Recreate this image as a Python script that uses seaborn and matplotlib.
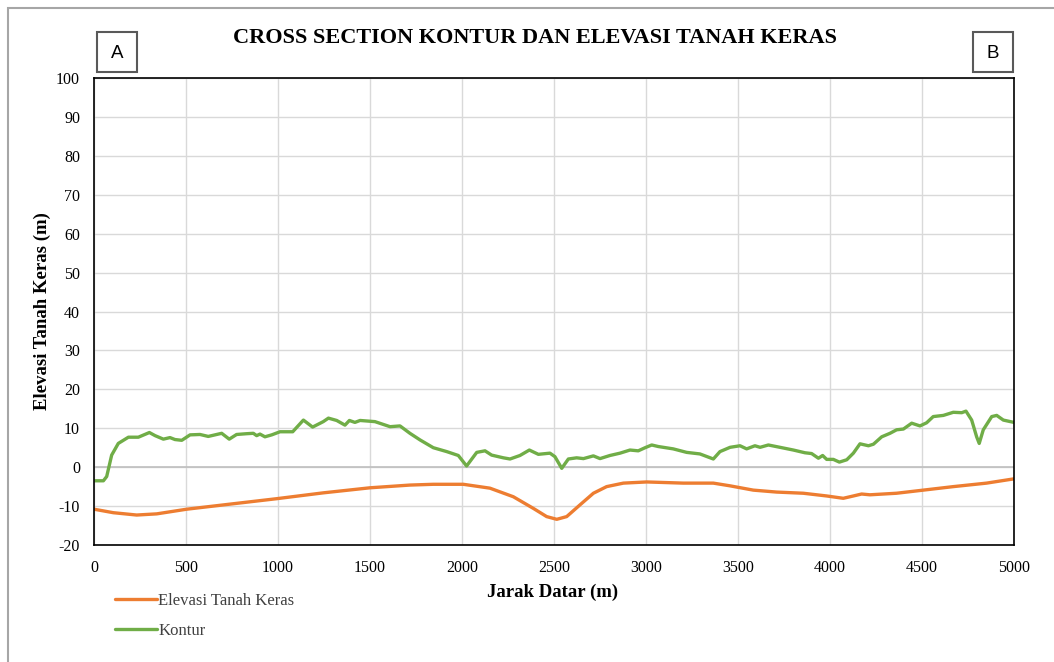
import matplotlib
matplotlib.use("Agg")
import matplotlib.pyplot as plt
import pandas as pd
import seaborn as sns
from matplotlib.patches import Rectangle

# Kontur (ground surface)
kontur_x = [0, 51, 69, 96, 132, 187, 241, 301, 332, 377, 413, 440, 477, 522, 576, 621, 694,
            735, 775, 830, 866, 884, 902, 929, 966, 1011, 1080, 1138, 1188, 1246, 1274, 1319,
            1364, 1388, 1418, 1446, 1527, 1609, 1663, 1717, 1772, 1844, 1917, 1980, 2025, 2080,
            2125, 2161, 2225, 2261, 2315, 2366, 2415, 2478, 2505, 2542, 2578, 2623, 2660, 2714,
            2750, 2804, 2859, 2913, 2958, 2995, 3031, 3067, 3148, 3221, 3293, 3366, 3402, 3457,
            3511, 3547, 3592, 3620, 3665, 3728, 3801, 3864, 3900, 3937, 3960, 3982, 4018, 4051,
            4091, 4127, 4163, 4209, 4236, 4281, 4326, 4362, 4399, 4444, 4489, 4525, 4561, 4616,
            4670, 4716, 4739, 4770, 4797, 4811, 4833, 4879, 4906, 4942, 5000]
kontur_y = [-3.5, -3.5, -2.4, 3.1, 6.1, 7.7, 7.7, 8.9, 8.1, 7.2, 7.6, 7.1, 6.9, 8.3, 8.4, 7.9, 8.7,
            7.2, 8.4, 8.6, 8.7, 8.1, 8.5, 7.8, 8.3, 9.1, 9.1, 12.1, 10.3, 11.7, 12.6, 12.0,
            10.8, 12.0, 11.5, 12.0, 11.7, 10.4, 10.6, 8.7, 7.0, 5.0, 4.0, 3.0, 0.3, 3.8,
            4.2, 3.1, 2.4, 2.1, 3.0, 4.4, 3.3, 3.6, 2.7, -0.3, 2.1, 2.4, 2.2, 2.9,
            2.2, 3.0, 3.6, 4.4, 4.2, 5.0, 5.7, 5.3, 4.7, 3.8, 3.4, 2.1, 4.0, 5.1,
            5.5, 4.7, 5.5, 5.1, 5.7, 5.1, 4.4, 3.7, 3.5, 2.3, 3.0, 2.0, 2.0, 1.3,
            1.9, 3.6, 6.0, 5.5, 5.9, 7.8, 8.7, 9.6, 9.8, 11.3, 10.6, 11.4, 13.0, 13.3,
            14.1, 14.0, 14.4, 12.1, 7.8, 6.1, 9.6, 13.0, 13.3, 12.1, 11.5]

# Elevasi tanah keras (hard soil layer)
keras_x = [0, 105, 232, 341, 504, 739, 993, 1246, 1500, 1717, 1844, 2007, 2152, 2279, 2388,
           2460, 2515, 2569, 2641, 2714, 2786, 2877, 3004, 3203, 3366, 3457, 3583, 3710,
           3855, 3982, 4072, 4127, 4172, 4217, 4362, 4507, 4670, 4851, 5000]
keras_y = [-10.8, -11.7, -12.3, -12.0, -10.8, -9.5, -8.1, -6.6, -5.3, -4.6, -4.4, -4.4, -5.4,
           -7.6, -10.6, -12.7, -13.4, -12.7, -9.7, -6.7, -5.0, -4.1, -3.8, -4.1, -4.1, -4.8,
           -5.9, -6.4, -6.7, -7.4, -8.0, -7.4, -6.9, -7.1, -6.7, -5.9, -5.0, -4.1, -3.0]

df = pd.concat([
    pd.DataFrame({"jarak": keras_x, "elevasi": keras_y, "seri": "Elevasi Tanah Keras"}),
    pd.DataFrame({"jarak": kontur_x, "elevasi": kontur_y, "seri": "Kontur"}),
])

sns.set_style("white")
plt.rcParams["font.family"] = ["Liberation Serif", "DejaVu Serif"]
plt.rcParams["axes.unicode_minus"] = False
plt.rcParams["text.color"] = "black"
plt.rcParams["axes.labelcolor"] = "black"

W, H = 1054, 662
fig = plt.figure(figsize=(W / 100, H / 100), dpi=100)
ax = fig.add_axes([94 / W, 1 - 545 / H, 920 / W, 467 / H])

sns.lineplot(data=df, x="jarak", y="elevasi", hue="seri", sort=False,
             palette={"Elevasi Tanah Keras": "#ED7D31", "Kontur": "#70AD47"},
             linewidth=2.4, ax=ax)

ax.set_xlim(0, 5000)
ax.set_ylim(-20, 100)
ax.set_xticks(range(0, 5001, 500))
ax.set_yticks(range(-20, 101, 10))
ax.grid(True, color="#d9d9d9", linewidth=1)
ax.axhline(0, color="#bfbfbf", linewidth=1.2, zorder=1)
for s in ax.spines.values():
    s.set_color("black")
    s.set_linewidth(1.2)
ax.tick_params(length=0, labelsize=11.5, colors="black")
ax.tick_params(axis="x", pad=11)
ax.tick_params(axis="y", pad=10)

ax.set_xlabel("Jarak Datar (m)", fontsize=13.5, fontweight="bold")
ax.set_ylabel("Elevasi Tanah Keras (m)", fontsize=13.5, fontweight="bold")
ax.xaxis.set_label_coords((553 - 94) / 920, (545 - 584) / 467)
ax.yaxis.set_label_coords((51 - 94) / 920, 0.5)

fig.text(535 / W, 1 - 38 / H, "CROSS SECTION KONTUR DAN ELEVASI TANAH KERAS",
         ha="center", va="center", fontsize=16, fontweight="bold")

# A and B boxes
for x0, lab in [(97, "A"), (973, "B")]:
    fig.patches.append(Rectangle((x0 / W, 1 - 72 / H), 40 / W, 40 / H,
                                 transform=fig.transFigure, fill=False,
                                 edgecolor="#595959", linewidth=1.5))
    fig.text((x0 + 20) / W, 1 - 53 / H, lab, ha="center", va="center",
             fontsize=13.5, family="Liberation Sans", color="black")

# outer chart frame
fig.patches.append(Rectangle((8 / W, -0.05), 1.1, 1 - 8 / H + 0.05,
                             transform=fig.transFigure, fill=False,
                             edgecolor="#a6a6a6", linewidth=1.5))

ax.legend(loc="upper left", bbox_to_anchor=(115 / W, 1 - 593 / H),
          bbox_transform=fig.transFigure, frameon=False, fontsize=12,
          handlelength=2.5, handletextpad=0.1, labelspacing=0.85,
          borderpad=0, borderaxespad=0, labelcolor="#404040", title=None)

fig.savefig("out.png", dpi=100)
